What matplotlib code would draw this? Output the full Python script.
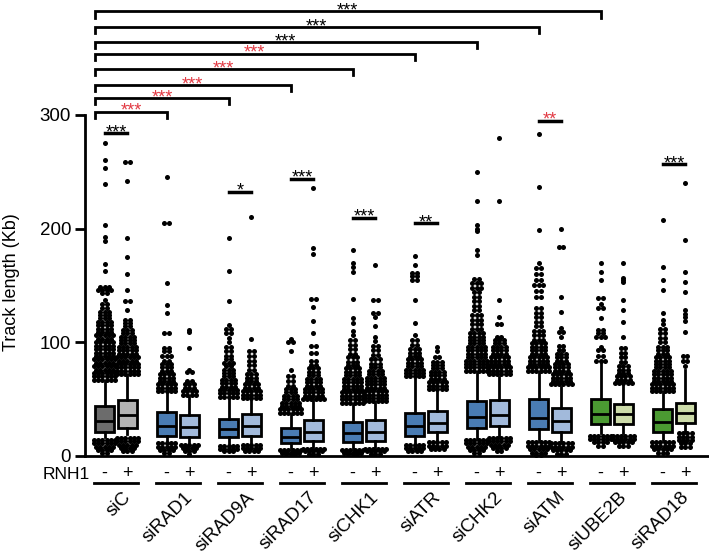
#!/usr/bin/env python3
"""Track length box plots, siRNA knockdowns -/+ RNH1."""
import matplotlib
matplotlib.use("Agg")
import matplotlib.pyplot as plt
from matplotlib.transforms import ScaledTranslation

plt.rcParams["font.family"] = ["Liberation Sans", "DejaVu Sans"]

groups = ["siC", "siRAD1", "siRAD9A", "siRAD17", "siCHK1",
          "siATR", "siCHK2", "siATM", "siUBE2B", "siRAD18"]

# box stats, RNH1 "-"
q1_neg = [21, 18, 16.4, 11, 12, 18, 24.3, 23.5, 27.8, 21.4]
med_neg = [31, 26.5, 24, 17, 20, 26, 34.6, 33, 36.6, 29.6]
q3_neg = [44, 39, 32.5, 24.3, 29.6, 38, 48.7, 50, 50.1, 41]
wlo_neg = [17, 13, 11, 7, 7, 12, 16, 14, 20, 14]
whi_neg = [65, 55, 50, 36, 45, 68, 72.7, 72.7, 81.5, 55]

# box stats, RNH1 "+"
q1_pos = [25, 17, 18, 13, 13, 21.4, 26.7, 21.4, 27.8, 28.7]
med_pos = [36, 25.8, 26, 21, 21.4, 29.3, 36, 31, 36.9, 38]
q3_pos = [49, 36, 37, 31.7, 31.7, 39.6, 49.3, 42.5, 45.7, 46.3]
wlo_pos = [19, 12, 12, 8, 8, 14, 18, 13, 20, 22]
whi_pos = [70, 52, 49, 48, 46.6, 57, 69.8, 61, 62.5, 76]

# outliers as (value, number of points at that level)
hi_neg = [
    [(67, 6), (70, 6), (73, 6), (76, 5), (79, 6), (82, 5), (85, 6), (88, 5), (91, 5), (94, 5),
     (97, 5), (100, 5), (103, 4), (106, 5), (109, 4), (112, 4), (115, 4), (118, 4), (121, 3),
     (124, 3), (127, 3), (130, 2), (134, 2), (137, 1), (143, 2), (146, 4), (149, 3), (163, 1),
     (169, 1), (189, 1), (193, 1), (203, 1), (239, 1), (253, 1), (260, 1), (275, 1)],
    [(57, 5), (60, 5), (63, 5), (66, 4), (69, 4), (72, 4), (75, 3), (78, 3), (81, 3), (84, 2),
     (88, 3), (92, 2), (95, 2), (108, 2), (126, 1), (133, 1), (152, 1), (205, 2), (245, 1)],
    [(52, 5), (55, 5), (58, 5), (61, 4), (64, 4), (67, 4), (70, 3), (73, 3), (76, 3), (79, 2),
     (82, 3), (85, 2), (88, 2), (92, 2), (96, 2), (100, 1), (104, 1), (108, 2), (112, 2),
     (115, 1), (136, 1), (163, 1), (192, 1)],
    [(38, 6), (41, 6), (44, 5), (47, 5), (50, 4), (53, 4), (56, 3), (59, 3), (62, 2), (66, 2),
     (70, 2), (76, 1), (92, 1), (100, 2), (103, 1)],
    [(47, 6), (50, 6), (53, 6), (56, 6), (59, 5), (62, 5), (65, 5), (68, 5), (71, 4), (74, 4),
     (77, 4), (80, 3), (83, 3), (87, 3), (90, 2), (94, 2), (98, 2), (102, 2), (106, 1), (110, 1),
     (117, 1), (121, 1), (138, 1), (162, 1), (166, 1), (170, 1), (181, 1)],
    [(70, 5), (73, 5), (76, 5), (79, 4), (82, 4), (85, 4), (88, 3), (91, 3), (94, 3), (98, 2),
     (102, 2), (106, 1), (117, 1), (137, 1), (155, 2), (158, 2), (161, 2), (168, 1), (176, 1)],
    [(75, 6), (78, 6), (81, 6), (84, 6), (87, 5), (90, 5), (93, 5), (96, 5), (99, 4), (102, 4),
     (105, 4), (108, 4), (112, 3), (116, 3), (120, 3), (124, 3), (128, 2), (132, 2), (136, 2),
     (140, 2), (144, 2), (148, 3), (152, 3), (156, 2), (177, 1), (181, 1), (198, 1), (200, 1),
     (203, 1), (224, 1), (250, 1)],
    [(75, 6), (78, 6), (81, 5), (84, 5), (87, 5), (90, 4), (93, 4), (96, 4), (99, 4), (102, 3),
     (106, 3), (110, 3), (114, 2), (118, 2), (122, 2), (126, 2), (130, 2), (140, 2), (145, 2),
     (150, 3), (155, 2), (160, 2), (165, 2), (170, 1), (199, 1), (237, 1), (283, 1)],
    [(84, 3), (88, 2), (93, 2), (96, 1), (105, 3), (108, 2), (111, 2), (121, 1), (130, 2),
     (134, 1), (139, 2), (155, 1), (162, 1), (170, 1)],
    [(57, 6), (60, 6), (63, 6), (66, 5), (69, 5), (72, 5), (75, 5), (78, 4), (81, 4), (84, 4),
     (87, 4), (90, 3), (93, 3), (96, 3), (100, 2), (104, 2), (108, 2), (112, 2), (116, 1),
     (120, 1), (126, 1), (146, 1), (155, 1), (166, 1), (208, 1)],
]
lo_neg = [
    [(14, 6), (11, 6), (8, 5), (5, 4), (3, 2)],
    [(11, 5), (8, 5), (5, 4), (3, 2)],
    [(9, 5), (6, 5), (4, 3)],
    [(5, 6), (3, 5), (1.5, 3)],
    [(5, 6), (3, 5), (1.5, 3)],
    [(10, 5), (7, 5), (4, 4)],
    [(14, 6), (11, 6), (8, 5), (5, 4), (3, 2)],
    [(12, 6), (9, 6), (6, 5), (3, 4), (1, 2)],
    [(18, 6), (15, 6), (12, 4), (9, 2)],
    [(12, 6), (9, 6), (6, 5), (3, 3)],
]
hi_pos = [
    [(72, 6), (75, 6), (78, 6), (81, 6), (84, 5), (87, 6), (90, 5), (93, 5), (96, 5), (99, 4),
     (102, 4), (105, 4), (108, 3), (111, 3), (114, 2), (117, 2), (120, 2), (128, 1), (136, 2),
     (146, 1), (160, 1), (175, 1), (192, 1), (242, 1), (259, 2)],
    [(54, 4), (57, 4), (60, 3), (63, 3), (66, 2), (74, 2), (76, 1), (95, 1), (109, 1), (111, 1)],
    [(51, 5), (54, 5), (57, 5), (60, 4), (63, 4), (66, 3), (69, 3), (72, 3), (76, 2), (80, 2),
     (84, 2), (88, 2), (92, 2), (103, 1), (210, 1)],
    [(50, 6), (53, 5), (56, 5), (59, 5), (62, 4), (65, 4), (68, 4), (71, 3), (74, 3), (77, 3),
     (80, 2), (84, 2), (91, 2), (97, 2), (108, 1), (119, 1), (131, 1), (138, 2), (178, 1),
     (183, 1), (236, 1)],
    [(48, 6), (51, 6), (54, 6), (57, 6), (60, 5), (63, 5), (66, 5), (69, 5), (72, 4), (75, 4),
     (78, 3), (81, 3), (85, 3), (89, 2), (93, 2), (97, 2), (101, 1), (105, 1), (114, 1), (122, 1),
     (126, 2), (137, 2), (168, 1)],
    [(59, 5), (62, 5), (65, 5), (68, 4), (71, 4), (74, 4), (77, 3), (80, 3), (83, 3), (87, 2),
     (92, 1), (96, 1)],
    [(72, 6), (75, 6), (78, 6), (81, 5), (84, 5), (87, 5), (90, 4), (93, 4), (96, 4), (99, 3),
     (102, 3), (105, 2), (116, 2), (122, 1), (137, 1), (224, 1), (280, 1)],
    [(63, 6), (66, 5), (69, 5), (72, 5), (75, 4), (78, 4), (81, 4), (84, 3), (87, 3), (90, 3),
     (93, 2), (97, 2), (105, 1), (109, 2), (113, 1), (127, 1), (140, 1), (184, 2), (200, 1)],
    [(64, 5), (67, 4), (70, 4), (73, 3), (76, 3), (79, 3), (83, 2), (87, 2), (91, 2), (95, 2),
     (105, 1), (118, 1), (128, 1), (137, 1), (153, 1), (155, 1), (157, 1), (170, 1)],
    [(79, 1), (84, 2), (88, 2), (109, 1), (119, 1), (122, 1), (125, 1), (128, 1), (144, 1),
     (153, 1), (162, 1), (190, 1), (240, 1)],
]
lo_pos = [
    [(16, 6), (13, 6), (10, 5), (7, 4), (4, 3)],
    [(10, 5), (7, 4), (4, 3), (2, 1)],
    [(10, 5), (7, 5), (4, 4)],
    [(6, 6), (4, 5), (2, 3)],
    [(6, 6), (4, 5), (2, 3)],
    [(12, 5), (9, 5), (6, 4)],
    [(16, 6), (13, 6), (10, 5), (7, 4), (4, 2)],
    [(11, 6), (8, 6), (5, 5), (2, 3)],
    [(18, 6), (15, 6), (12, 5), (9, 3)],
    [(20, 4), (17, 4), (14, 4), (11, 3), (8, 3)],
]

# significance: brackets from siC to group, and -/+ comparisons within a group
bracket_group = [8, 7, 6, 5, 4, 3, 2, 1]
bracket_y = [391, 377, 364, 354, 340, 326, 315, 303]
bracket_stars = ["***"] * 8
bracket_red = [False, False, False, True, True, True, True, True]
pair_group = [0, 2, 3, 4, 5, 7, 9]
pair_y = [284, 232.5, 244, 209.6, 205, 295, 257]
pair_stars = ["***", "*", "***", "***", "**", "**", "***"]
pair_red = [False, False, False, False, False, True, False]

col_neg = ["#6c6c6c"] + ["#4a7cb3"] * 7 + ["#4b9a32"] * 2
col_pos = ["#b3b3b3"] + ["#a2badb"] * 7 + ["#cddcaa"] * 2
RED = "#e23a44"
OFF = 0.185
BW = 0.32
DX = 0.066


def swarm(ax, x0, rows):
    xs, ys = [], []
    for v, n in rows:
        for k in range(n):
            xs.append(x0 + (k - (n - 1) / 2) * DX)
            ys.append(v)
    ax.scatter(xs, ys, s=13, c="black", linewidths=0, zorder=4, clip_on=False)


fig = plt.figure(figsize=(7.09, 5.54), dpi=100)
ax = fig.add_axes([85 / 709, 98 / 554, 624 / 709, 456 / 554])

stats, pos, cols = [], [], []
for i in range(len(groups)):
    stats.append(dict(med=med_neg[i], q1=q1_neg[i], q3=q3_neg[i],
                      whislo=wlo_neg[i], whishi=whi_neg[i], fliers=[]))
    stats.append(dict(med=med_pos[i], q1=q1_pos[i], q3=q3_pos[i],
                      whislo=wlo_pos[i], whishi=whi_pos[i], fliers=[]))
    pos += [i - OFF, i + OFF]
    cols += [col_neg[i], col_pos[i]]

bp = ax.bxp(stats, positions=pos, widths=BW, patch_artist=True, showcaps=False,
            showfliers=False, manage_ticks=False,
            boxprops=dict(linewidth=2, edgecolor="black"),
            medianprops=dict(color="black", linewidth=2),
            whiskerprops=dict(color="black", linewidth=2))
for patch, c in zip(bp["boxes"], cols):
    patch.set_facecolor(c)

for i in range(len(groups)):
    swarm(ax, i - OFF, hi_neg[i] + lo_neg[i])
    swarm(ax, i + OFF, hi_pos[i] + lo_pos[i])

ax.set_xlim(-0.5, 9.565)
ax.set_ylim(0, 401.1)
for s in ["top", "right"]:
    ax.spines[s].set_visible(False)
ax.spines["left"].set_bounds(0, 300)
ax.spines["left"].set_linewidth(2)
ax.spines["bottom"].set_linewidth(2)
ax.set_xticks([])
ax.set_yticks([0, 100, 200, 300])
ax.tick_params(axis="y", length=7, width=2, labelsize=13.5, pad=3)
fig.text(12 / 709, 1 - 282 / 554, "Track length (Kb)", rotation=90,
         ha="center", va="center", fontsize=13)

star_off = ScaledTranslation(0, -3 / 72, fig.dpi_scale_trans)
tick_h = 5.3

for g, y, st, red in zip(bracket_group, bracket_y, bracket_stars, bracket_red):
    x0, x1 = -OFF - 0.15, g - OFF
    ax.plot([x0, x0, x1, x1], [y - tick_h, y, y, y - tick_h], color="black",
            lw=2, clip_on=False, solid_joinstyle="miter")
    ax.text((x0 + x1) / 2, y, st, ha="center", va="baseline", fontsize=13,
            color=RED if red else "black", transform=ax.transData + star_off)

for g, y, st, red in zip(pair_group, pair_y, pair_stars, pair_red):
    ax.plot([g - OFF, g + OFF], [y, y], color="black", lw=2.5, clip_on=False)
    ax.text(g, y, st, ha="center", va="baseline", fontsize=13,
            color=RED if red else "black", transform=ax.transData + star_off)

# RNH1 -/+ row and group labels
ax.text(-0.42, -16.5, "RNH1", ha="right", va="center", fontsize=12.5, clip_on=False)
for i, name in enumerate(groups):
    ax.text(i - OFF, -15.5, "-", ha="center", va="center", fontsize=13)
    ax.text(i + OFF, -15.5, "+", ha="center", va="center", fontsize=13)
    ax.plot([i - 0.35, i + 0.35], [-24, -24], color="black", lw=2, clip_on=False)
    ax.text(i + 0.1, -29, name, rotation=45, rotation_mode="anchor",
            ha="right", va="top", fontsize=13.5)

fig.savefig("out.png", dpi=100)
